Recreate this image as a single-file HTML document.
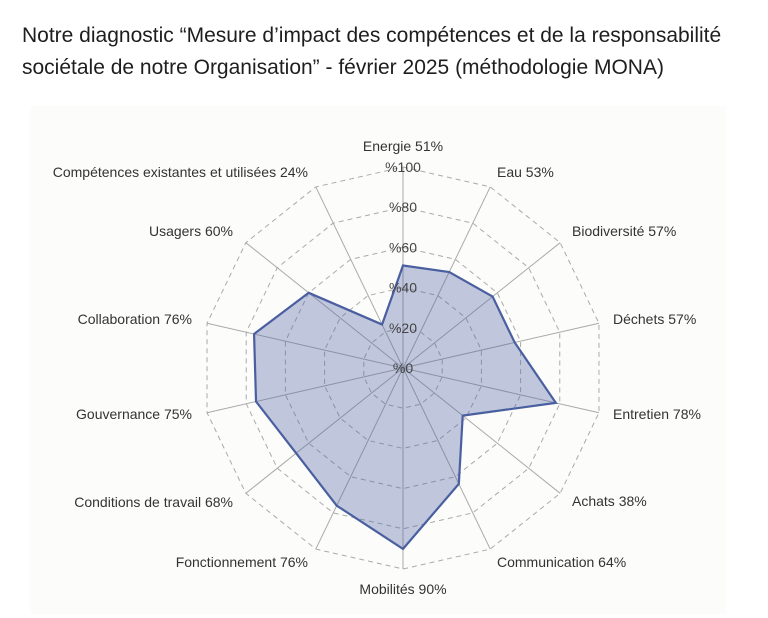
<!DOCTYPE html>
<html><head><meta charset="utf-8"><style>
body{margin:0;width:768px;height:618px;background:#fff;overflow:hidden;font-family:"Liberation Sans",sans-serif}
.t{position:absolute;left:22px;top:20px;font-size:21px;line-height:32px;color:#1e1e1e}
svg{position:absolute;left:0;top:0}
</style></head><body>
<div class="t">Notre diagnostic “Mesure d’impact des compétences et de la responsabilité<br>sociétale de notre Organisation” - février 2025 (méthodologie MONA)</div>
<svg id="s" width="768" height="618" font-family="Liberation Sans, sans-serif" font-size="14" fill="#333">
<rect x="30" y="106" width="696" height="508" fill="#fcfcfa"/>
</svg>
<script>
var s=document.getElementById('s'),cx=403,cy=368,R=201,N=14;
var v=[51,53,57,57,78,38,64,90,76,68,75,76,60,24];
function P(i,r){var a=i*2*Math.PI/N;return [cx+r*Math.sin(a),cy-r*Math.cos(a)];}
var h='';
for(var k=1;k<=5;k++){var pts=[];for(var i=0;i<N;i++)pts.push(P(i,R*k/5).join(','));
h+='<polygon points="'+pts.join(' ')+'" fill="none" stroke="#aaa" stroke-dasharray="5,4" stroke-width="1"/>';}
for(var i=0;i<N;i++){var p=P(i,R);h+='<line x1="'+cx+'" y1="'+cy+'" x2="'+p[0]+'" y2="'+p[1]+'" stroke="#aaa" stroke-width="1"/>';}
var pts=[];for(var i=0;i<N;i++)pts.push(P(i,R*v[i]/100).join(','));
h+='<polygon points="'+pts.join(' ')+'" fill="rgba(80,100,165,0.35)" stroke="#4a5fa0" stroke-width="2.2"/>';
var t=['%0','%20','%40','%60','%80','%100'];
for(var k=0;k<6;k++)h+='<text x="'+cx+'" y="'+(cy+5-R*k/5)+'" text-anchor="middle" fill="#444">'+t[k]+'</text>';
var L=[['Energie 51%',403,151,'middle'],['Eau 53%',497,177,'start'],['Biodiversité 57%',572,236,'start'],['Déchets 57%',613,324,'start'],['Entretien 78%',613,419,'start'],['Achats 38%',572,506,'start'],['Communication 64%',497,567,'start'],['Mobilités 90%',403,594,'middle'],['Fonctionnement 76%',308,567,'end'],['Conditions de travail 68%',233,507,'end'],['Gouvernance 75%',192,419,'end'],['Collaboration 76%',192,324,'end'],['Usagers 60%',233,236,'end'],['Compétences existantes et utilisées 24%',308,177,'end']];
L.forEach(function(l){h+='<text x="'+l[1]+'" y="'+l[2]+'" text-anchor="'+l[3]+'">'+l[0]+'</text>';});
s.insertAdjacentHTML('beforeend',h);
</script>
</body></html>
